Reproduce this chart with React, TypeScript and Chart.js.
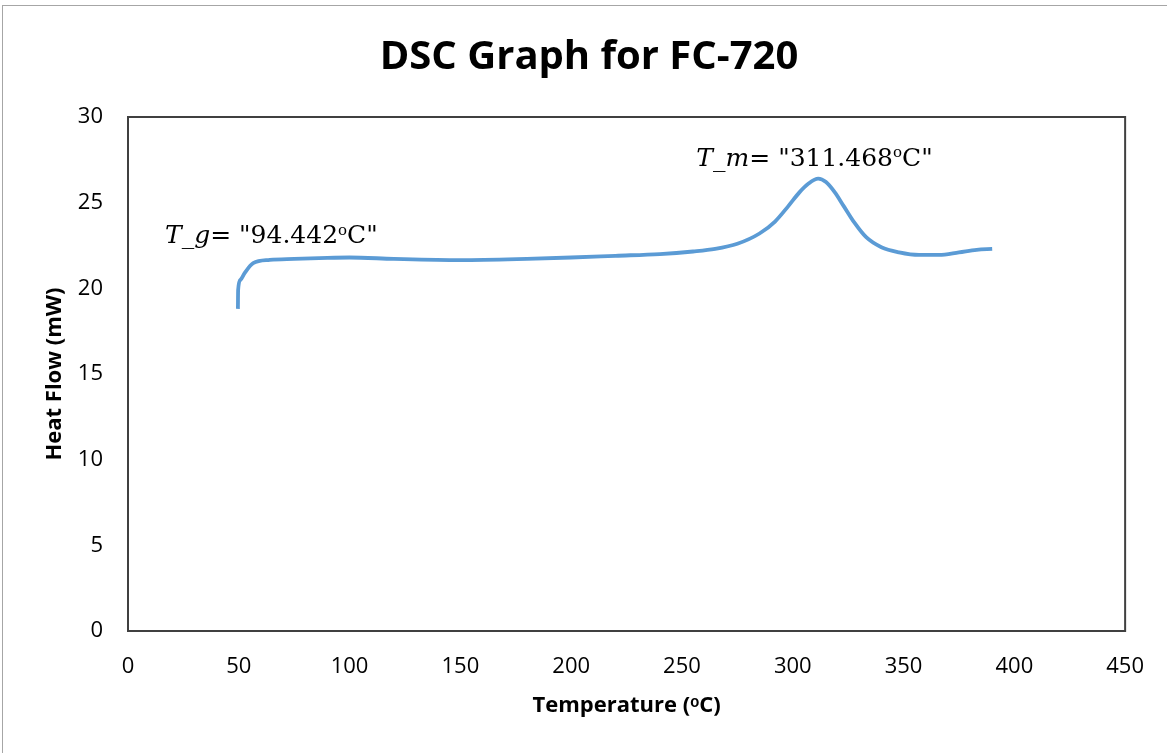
import React, { useEffect, useRef } from "react";
import { Chart, registerables } from "chart.js";

Chart.register(...registerables);

const chartTitle = "DSC Graph for FC-720";
const xTitle = "Temperature (ᵒC)";
const yTitle = "Heat Flow (mW)";

const temperature = [
  49.6, 49.7, 50.8, 52.7, 56.5, 64, 75, 90, 100, 120, 150, 180, 200, 220, 240,
  255, 265, 275, 285, 292, 298, 303, 307, 311.5, 315, 319, 323, 328, 333, 340,
  348, 357, 366, 375, 383, 390,
];
const heatFlow = [
  18.8, 19.9, 20.5, 20.9, 21.47, 21.66, 21.72, 21.78, 21.8, 21.72, 21.65, 21.72,
  21.8, 21.9, 22.0, 22.15, 22.3, 22.6, 23.2, 23.9, 24.8, 25.6, 26.1, 26.4, 26.2,
  25.6, 24.8, 23.8, 23.0, 22.4, 22.1, 21.95, 21.95, 22.1, 22.25, 22.3,
];

const xTicks = [0, 50, 100, 150, 200, 250, 300, 350, 400, 450];
const yTicks = [0, 5, 10, 15, 20, 25, 30];

const annSymbol = ["g", "m"];
const annValue = ["94.442", "311.468"];
const annX = [16.7, 256.5];
const annY = [23.0, 27.5];

const annotationPlugin = {
  id: "dscAnnotations",
  afterDatasetsDraw(chart: any) {
    const { ctx, scales } = chart;
    const size = 25;
    const fam = '"DejaVu Serif", "Liberation Serif", serif';
    ctx.save();
    ctx.fillStyle = "#000";
    ctx.textBaseline = "middle";
    ctx.textAlign = "left";
    annSymbol.forEach((sym, i) => {
      let x = scales.x.getPixelForValue(annX[i]);
      const y = scales.y.getPixelForValue(annY[i]);
      const parts: [string, string, number][] = [
        ["T_" + sym, `italic ${size}px ${fam}`, 0],
        ["= \"" + annValue[i], `${size}px ${fam}`, 0],
        ["o", `${Math.round(size * 0.6)}px ${fam}`, -size * 0.25],
        ["C\"", `${size}px ${fam}`, 0],
      ];
      parts.forEach(([t, f, dy]) => {
        ctx.font = f;
        ctx.fillText(t, x, y + dy);
        x += ctx.measureText(t).width;
      });
    });
    ctx.restore();
  },
};

const framePlugin = {
  id: "frames",
  beforeDraw(chart: any) {
    const { ctx } = chart;
    ctx.save();
    ctx.fillStyle = "#fff";
    ctx.fillRect(0, 0, chart.width, chart.height);
    ctx.strokeStyle = "#a6a6a6";
    ctx.lineWidth = 1;
    ctx.strokeRect(2.5, 5.5, chart.width + 10, chart.height + 10);
    ctx.restore();
  },
  afterDraw(chart: any) {
    const { ctx, chartArea } = chart;
    ctx.save();
    ctx.strokeStyle = "#404040";
    ctx.lineWidth = 2;
    ctx.strokeRect(
      chartArea.left,
      chartArea.top,
      chartArea.right - chartArea.left,
      chartArea.bottom - chartArea.top
    );
    ctx.fillStyle = "#000";
    ctx.font = 'bold 40px "Open Sans", sans-serif';
    ctx.textAlign = "center";
    ctx.textBaseline = "middle";
    ctx.fillText(chartTitle, 589, 58);
    ctx.restore();
  },
};

export default function App() {
  const ref = useRef<HTMLCanvasElement | null>(null);
  useEffect(() => {
    document.body.style.margin = "0";
    const canvas = ref.current!;
    const tickFont = { family: '"Open Sans", sans-serif', size: 22 };
    const titleFont = { family: '"Open Sans", sans-serif', size: 22, weight: "bold", lineHeight: 1.2 };
    const chart = new Chart(canvas, {
      type: "scatter",
      data: {
        datasets: [
          {
            data: temperature.map((t, i) => ({ x: t, y: heatFlow[i] })),
            showLine: true,
            borderColor: "#5b9bd5",
            borderWidth: 3.8,
            pointRadius: 0,
            cubicInterpolationMode: "monotone",
            fill: false,
          },
        ],
      },
      options: {
        animation: false,
        responsive: false,
        layout: { padding: { left: 0, top: 117, right: 41, bottom: 0 } },
        plugins: {
          legend: { display: false },
          tooltip: { enabled: false },
          title: { display: false },
        },
        scales: {
          x: {
            type: "linear",
            min: 0,
            max: 450,
            afterBuildTicks: (s: any) => {
              s.ticks = xTicks.map((v) => ({ value: v }));
            },
            afterFit: (s: any) => {
              s.height = 753 - 631;
            },
            grid: { display: false, drawTicks: false },
            border: { display: false },
            ticks: { color: "#000", font: tickFont, padding: 23, maxRotation: 0 },
            title: {
              display: true,
              text: xTitle,
              color: "#000",
              font: titleFont,
              padding: { top: 0, bottom: 34 },
            },
          },
          y: {
            type: "linear",
            min: 0,
            max: 30,
            afterBuildTicks: (s: any) => {
              s.ticks = yTicks.map((v) => ({ value: v }));
            },
            afterFit: (s: any) => {
              s.width = 128;
            },
            grid: { display: false, drawTicks: false },
            border: { display: false },
            ticks: { color: "#000", font: tickFont, padding: 25 },
            title: {
              display: true,
              text: yTitle,
              color: "#000",
              font: titleFont,
              padding: { top: 42, bottom: 0 },
            },
          },
        },
      },
      plugins: [framePlugin, annotationPlugin],
    } as any);
    return () => chart.destroy();
  }, []);
  return (
    <div style={{ position: "relative", width: 1167, height: 753 }}>
      <canvas ref={ref} width={1167} height={753} style={{ display: "block", width: 1167, height: 753 }} />
    </div>
  );
}
